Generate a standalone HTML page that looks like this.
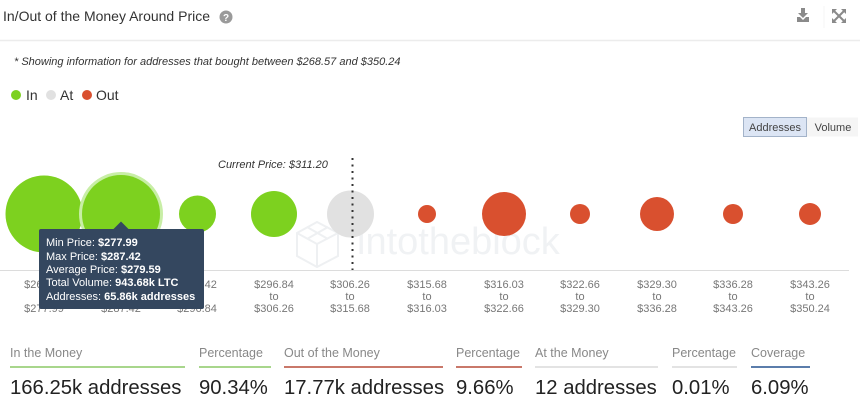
<!DOCTYPE html>
<html><head><meta charset="utf-8">
<style>
html,body{margin:0;padding:0;background:#fff;}
body{width:860px;height:412px;overflow:hidden;font-family:"Liberation Sans",sans-serif;}
svg{display:block;}
</style></head>
<body>
<svg width="860" height="412" viewBox="0 0 860 412" xmlns="http://www.w3.org/2000/svg" font-family="Liberation Sans, sans-serif">
<!-- header -->
<text x="3" y="21" font-size="14" fill="#333">In/Out of the Money Around Price</text>
<circle cx="226" cy="17" r="6.5" fill="#9a9a9a"/>
<text x="226" y="21" font-size="10" font-weight="bold" fill="#fff" text-anchor="middle">?</text>
<!-- download icon -->
<g fill="#8a8a8a">
<rect x="801" y="8" width="4" height="6"/>
<polygon points="798,13 808,13 803,18"/>
<path d="M797 17 h3 l3 3 l3 -3 h3 v5 h-12 z"/>
</g>
<!-- expand icon -->
<g stroke="#8a8a8a" stroke-width="2" fill="none">
<line x1="834" y1="11" x2="844" y2="21"/>
<line x1="844" y1="11" x2="834" y2="21"/>
</g>
<g fill="#8a8a8a">
<polygon points="832,9 837,9 832,14"/>
<polygon points="846,9 841,9 846,14"/>
<polygon points="832,23 837,23 832,18"/>
<polygon points="846,23 841,23 846,18"/>
</g>
<line x1="0" y1="40.5" x2="860" y2="40.5" stroke="#ececec" stroke-width="1.5"/>
<line x1="824" y1="6" x2="824" y2="28" stroke="#f6f6f6" stroke-width="1"/>

<!-- subtitle -->
<text x="14" y="65" font-size="11" font-style="italic" fill="#333">* Showing information for addresses that bought between $268.57 and $350.24</text>

<!-- legend -->
<circle cx="16" cy="95" r="5" fill="#7dd11f"/>
<text x="26" y="100" font-size="14" fill="#333">In</text>
<circle cx="51" cy="95" r="5" fill="#e1e1e1"/>
<text x="60" y="100" font-size="14" fill="#333">At</text>
<circle cx="87" cy="95" r="5" fill="#d9502f"/>
<text x="96" y="100" font-size="14" fill="#333">Out</text>

<!-- buttons -->
<rect x="743.5" y="117.5" width="63" height="19" fill="#dce5f4" stroke="#a3b3c9" stroke-width="1"/>
<text x="775" y="131" font-size="11" fill="#444" text-anchor="middle">Addresses</text>
<rect x="807" y="117.5" width="51" height="19" fill="#f5f5f5"/>
<text x="833" y="131" font-size="11" fill="#444" text-anchor="middle">Volume</text>

<!-- watermark -->
<g stroke="#eef0f2" stroke-width="2" fill="none">
<polygon points="317,222 338,233 338,256 317,267 297,256 297,233"/>
<polyline points="297,233 317,244 338,233"/>
<line x1="317" y1="244" x2="317" y2="267"/>
<line x1="307" y1="227" x2="328" y2="239"/>
<line x1="328" y1="227" x2="307" y2="239"/>
</g>
<text x="357" y="254" font-size="38" fill="#f0f2f4">intotheblock</text>

<!-- current price -->
<text x="218" y="168" font-size="11" font-style="italic" fill="#333">Current Price: $311.20</text>

<!-- bubbles -->
<circle cx="44" cy="214" r="38.5" fill="#7dd11f"/>
<circle cx="121" cy="214" r="42" fill="#c8eea6"/>
<circle cx="121" cy="214" r="39" fill="#7dd11f"/>
<circle cx="197.5" cy="214" r="18.5" fill="#7dd11f"/>
<circle cx="274" cy="214" r="23" fill="#7dd11f"/>
<circle cx="350.5" cy="214" r="23.5" fill="#e1e1e1"/>
<circle cx="427" cy="214" r="9" fill="#d9502f"/>
<circle cx="504" cy="214" r="22" fill="#d9502f"/>
<circle cx="580" cy="214" r="10" fill="#d9502f"/>
<circle cx="657" cy="214" r="17" fill="#d9502f"/>
<circle cx="733" cy="214" r="10" fill="#d9502f"/>
<circle cx="810" cy="214" r="11" fill="#d9502f"/>

<!-- dotted current line -->
<line x1="352.5" y1="158" x2="352.5" y2="270" stroke="#333" stroke-width="2" stroke-dasharray="2 4.5"/>

<!-- axis -->
<line x1="0" y1="270.5" x2="849" y2="270.5" stroke="#dcdcdc" stroke-width="1"/>

<!-- x labels -->
<g font-size="11" fill="#777" text-anchor="middle">
<text x="44" y="288">$268.57</text><text x="44" y="300">to</text><text x="44" y="312">$277.99</text>
<text x="121" y="288">$277.99</text><text x="121" y="300">to</text><text x="121" y="312">$287.42</text>
<text x="197" y="288">$287.42</text><text x="197" y="300">to</text><text x="197" y="312">$296.84</text>
<text x="274" y="288">$296.84</text><text x="274" y="300">to</text><text x="274" y="312">$306.26</text>
<text x="350" y="288">$306.26</text><text x="350" y="300">to</text><text x="350" y="312">$315.68</text>
<text x="427" y="288">$315.68</text><text x="427" y="300">to</text><text x="427" y="312">$316.03</text>
<text x="504" y="288">$316.03</text><text x="504" y="300">to</text><text x="504" y="312">$322.66</text>
<text x="580" y="288">$322.66</text><text x="580" y="300">to</text><text x="580" y="312">$329.30</text>
<text x="657" y="288">$329.30</text><text x="657" y="300">to</text><text x="657" y="312">$336.28</text>
<text x="733" y="288">$336.28</text><text x="733" y="300">to</text><text x="733" y="312">$343.26</text>
<text x="810" y="288">$343.26</text><text x="810" y="300">to</text><text x="810" y="312">$350.24</text>
</g>

<!-- tooltip -->
<rect x="39" y="229" width="165" height="80" rx="2" fill="#34475f"/>
<polygon points="113,229.5 121,221.5 129,229.5" fill="#34475f"/>
<g font-size="11" fill="#fff">
<text x="46" y="246">Min Price: <tspan font-weight="bold">$277.99</tspan></text>
<text x="46" y="260">Max Price: <tspan font-weight="bold">$287.42</tspan></text>
<text x="46" y="273">Average Price: <tspan font-weight="bold">$279.59</tspan></text>
<text x="46" y="286">Total Volume: <tspan font-weight="bold">943.68k LTC</tspan></text>
<text x="46" y="300">Addresses: <tspan font-weight="bold">65.86k addresses</tspan></text>
</g>

<!-- bottom stats -->
<g font-size="12.5" fill="#888">
<text x="10" y="357">In the Money</text>
<text x="199" y="357">Percentage</text>
<text x="284" y="357">Out of the Money</text>
<text x="456" y="357">Percentage</text>
<text x="535" y="357">At the Money</text>
<text x="672" y="357">Percentage</text>
<text x="751" y="357">Coverage</text>
</g>
<g stroke-width="2">
<line x1="10" y1="367" x2="185" y2="367" stroke="#a8d68c"/>
<line x1="199" y1="367" x2="271" y2="367" stroke="#a8d68c"/>
<line x1="284" y1="367" x2="443" y2="367" stroke="#c9786a"/>
<line x1="456" y1="367" x2="522" y2="367" stroke="#c9786a"/>
<line x1="535" y1="367" x2="658" y2="367" stroke="#e3e3e3"/>
<line x1="672" y1="367" x2="737" y2="367" stroke="#e3e3e3"/>
<line x1="751" y1="367" x2="810" y2="367" stroke="#5b7dab"/>
</g>
<g font-size="20.3" fill="#222">
<text x="10" y="394">166.25k addresses</text>
<text x="199" y="394">90.34%</text>
<text x="284" y="394">17.77k addresses</text>
<text x="456" y="394">9.66%</text>
<text x="535" y="394">12 addresses</text>
<text x="672" y="394">0.01%</text>
<text x="751" y="394">6.09%</text>
</g>
</svg>
</body></html>
